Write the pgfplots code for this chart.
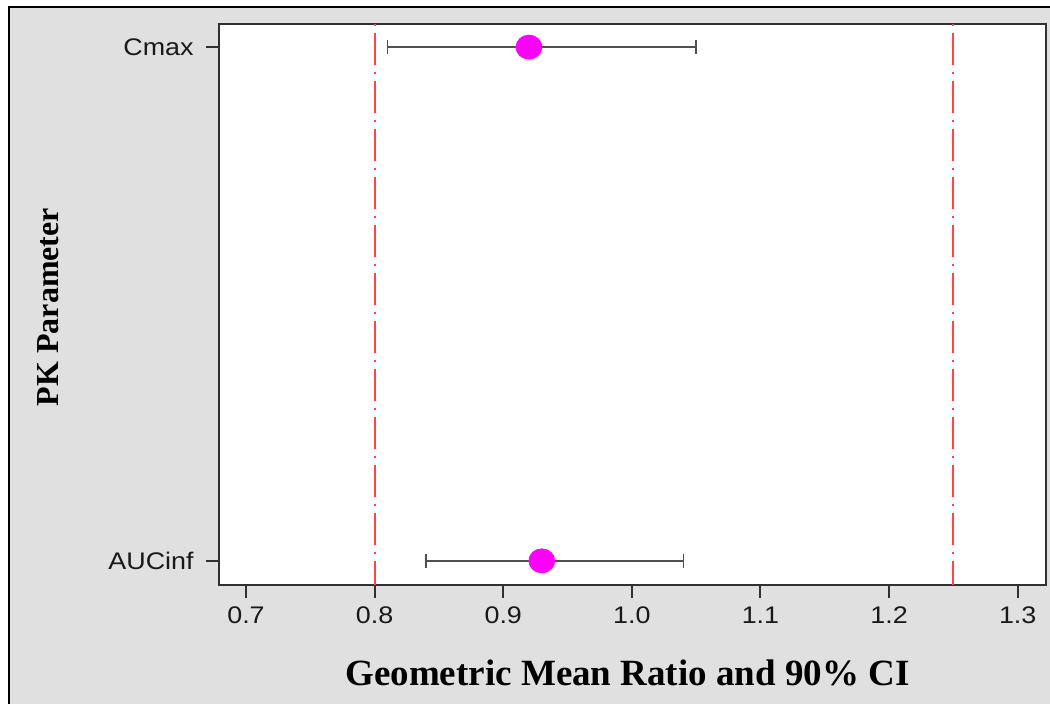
\documentclass[border=0pt]{standalone}
\usepackage{pgfplots}
\pgfplotsset{compat=1.18}
\usepackage{fontspec}
\setmainfont{Liberation Serif}
\newfontfamily\arialf{Liberation Sans}
\definecolor{bg}{HTML}{E0E0E0}
\definecolor{refred}{HTML}{FF4646}
\definecolor{errgray}{HTML}{505050}
\definecolor{axgray}{HTML}{303030}
\definecolor{mag}{HTML}{FF00FF}
\begin{document}
\begin{tikzpicture}
\path[use as bounding box] (0,0) rectangle (525pt,352pt);
\fill[white] (0,0) rectangle (525pt,352pt);
\fill[bg] (4.25pt,0) rectangle (525pt,348.25pt);
\draw[black, line width=1pt] (4.25pt,0) -- (4.25pt,348.25pt) -- (525pt,348.25pt);
\begin{axis}[
  at={(109.5pt,59.5pt)}, anchor=south west,
  scale only axis, width=413.5pt, height=280.5pt,
  xmin=0.679, xmax=1.322, ymin=0.953, ymax=2.045,
  xtick={0.7,0.8,0.9,1.0,1.1,1.2,1.3},
  xticklabels={0.7,0.8,0.9,1.0,1.1,1.2,1.3},
  ytick={1,2}, yticklabels={AUCinf,Cmax},
  tick align=outside, major tick length=6.5pt,
  tick style={line width=1pt, color=axgray},
  axis line style={line width=1pt, color=axgray},
  axis background/.style={fill=white},
  tick label style={font=\arialf\fontsize{12}{14}\selectfont, xscale=1.12, text=black!90},
  yticklabel style={xshift=-2pt},
  xticklabel style={yshift=-1pt},
  xtick pos=bottom, ytick pos=left,
  xlabel={Geometric Mean Ratio and 90\% CI},
  ylabel={PK Parameter},
  xlabel style={font=\bfseries\fontsize{18.5}{22}\selectfont, at={(axis description cs:0.494,-0.18)}, anchor=base},
  ylabel style={font=\bfseries\fontsize{16}{19}\selectfont, at={(axis description cs:-0.2068,0.4955)}, anchor=center},
]
\addplot[only marks, mark=*, mark size=6pt, mark options={fill=mag, draw=mag, xscale=1.08}] coordinates {(0.92,2) (0.93,1)};
\addplot[errgray, line width=0.8pt, mark=|, mark size=3.5pt] coordinates {(0.81,2) (1.05,2)};
\addplot[errgray, line width=0.8pt, mark=|, mark size=3.5pt] coordinates {(0.84,1) (1.04,1)};
\addplot[refred, line width=1pt, dash pattern=on 1pt off 3.5pt on 16pt off 3.5pt] coordinates {(0.8,2.045) (0.8,0.953)};
\addplot[refred, line width=1pt, dash pattern=on 1pt off 3.5pt on 16pt off 3.5pt] coordinates {(1.25,2.045) (1.25,0.953)};
\end{axis}
\end{tikzpicture}
\end{document}
